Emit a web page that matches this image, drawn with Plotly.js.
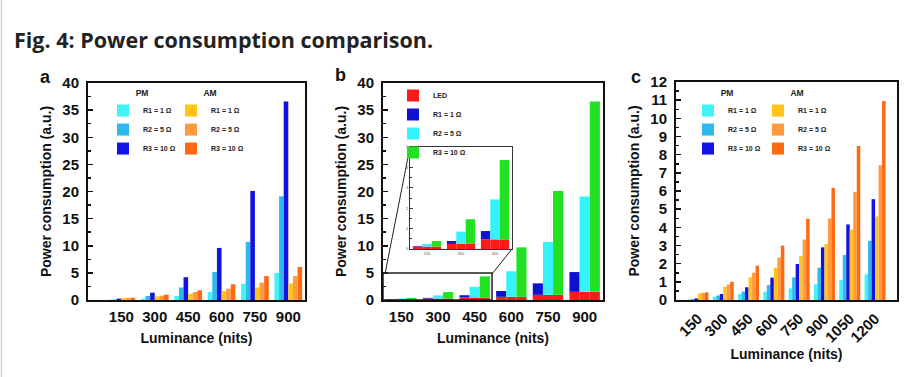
<!DOCTYPE html>
<html><head><meta charset="utf-8">
<script src="https://cdn.plot.ly/plotly-3.0.1.min.js"></script>
<style>html,body{margin:0;padding:0;background:#fff;} #chart{width:918px;height:377px;}</style>
</head><body><div id="chart"></div>
<script>
// ---------- data ----------
const luminanceAB = [150, 300, 450, 600, 750, 900];
const luminanceC = [150, 300, 450, 600, 750, 900, 1050, 1200];
const seriesNamesPMAM = ['R1 = 1 Ω', 'R2 = 5 Ω', 'R3 = 10 Ω'];
const seriesNamesB = ['LED', 'R1 = 1 Ω', 'R2 = 5 Ω', 'R3 = 10 Ω'];

// panel a
const a_pmR1 = [0.05, 0.25, 0.75, 1.5, 3.0, 5.0];
const a_pmR2 = [0.1, 0.75, 2.3, 5.15, 10.7, 19.1];
const a_pmR3 = [0.25, 1.35, 4.2, 9.6, 20.1, 36.6];
const a_amR1 = [0.35, 0.67, 1.17, 1.66, 2.3, 3.07];
const a_amR2 = [0.38, 0.8, 1.47, 2.1, 3.2, 4.4];
const a_amR3 = [0.4, 1.0, 1.78, 2.9, 4.4, 6.1];

// panel b (totals per resistor, LED share)
const b_led = [0.12, 0.25, 0.47, 0.58, 0.95, 1.5];
const b_totR1 = [0.15, 0.39, 0.88, 1.66, 3.07, 5.15];
const b_totR2 = [0.25, 0.85, 2.43, 5.3, 10.7, 19.1];
const b_totR3 = [0.39, 1.46, 4.36, 9.7, 20.1, 36.6];

// panel c
const c_pmR1 = [0.03, 0.18, 0.33, 0.46, 0.64, 0.86, 1.1, 1.41];
const c_pmR2 = [0.05, 0.24, 0.46, 0.82, 1.25, 1.78, 2.47, 3.26];
const c_pmR3 = [0.09, 0.33, 0.7, 1.23, 1.98, 2.9, 4.16, 5.55];
const c_amR1 = [0.37, 0.73, 1.25, 1.78, 2.42, 3.08, 3.88, 4.6];
const c_amR2 = [0.4, 0.86, 1.5, 2.33, 3.33, 4.49, 5.95, 7.42];
const c_amR3 = [0.42, 1.0, 1.89, 2.99, 4.47, 6.17, 8.48, 10.95];

// ---------- styling ----------
const W = 918, H = 377;
const px = v => v / W;
const py = v => 1 - v / H;
const FONT = 'Liberation Sans, Arial, sans-serif';
const pmColors = ['#3ff3f8', '#2db8ee', '#1212e2'];
const amColors = ['#ffc417', '#ff9a3e', '#ff6912'];
const bColors = ['#ff1a1a', '#1010d0', '#35f2ff', '#22e022'];

const traces = [];
function addBars(x, ys, names, colors, xa, ya, legend) {
  ys.forEach((y, i) => {
    traces.push({type: 'bar', x: x, y: y, name: names[i], xaxis: xa, yaxis: ya,
      legend: legend, marker: {color: colors[i], line: {width: 0}}, hoverinfo: 'x+y'});
  });
}
addBars(luminanceAB, [a_pmR1, a_pmR2, a_pmR3], seriesNamesPMAM, pmColors, 'x', 'y', 'legend');
addBars(luminanceAB, [a_amR1, a_amR2, a_amR3], seriesNamesPMAM, amColors, 'x', 'y', 'legend2');
addBars(luminanceC, [c_pmR1, c_pmR2, c_pmR3], seriesNamesPMAM, pmColors, 'x3', 'y3', 'legend4');
addBars(luminanceC, [c_amR1, c_amR2, c_amR3], seriesNamesPMAM, amColors, 'x3', 'y3', 'legend5');

// panel b stacked groups (main + inset)
const totals = [b_totR1, b_totR2, b_totR3];
[['x2', 'y2', true], ['x4', 'y4', false]].forEach(([xa, ya, main]) => {
  totals.forEach((tot, g) => {
    traces.push({type: 'bar', x: luminanceAB, y: b_led, name: seriesNamesB[0], xaxis: xa, yaxis: ya,
      offsetgroup: 'g' + g, legend: 'legend3', legendgroup: 'led', showlegend: main && g === 0,
      marker: {color: bColors[0], line: {width: 0}}});
  });
  totals.forEach((tot, g) => {
    traces.push({type: 'bar', x: luminanceAB, y: tot.map((t, k) => t - b_led[k]), base: b_led,
      name: seriesNamesB[g + 1], xaxis: xa, yaxis: ya, offsetgroup: 'g' + g, legend: 'legend3',
      showlegend: main, marker: {color: bColors[g + 1], line: {width: 0}}});
  });
});

const tickFont = {family: FONT, size: 15, color: '#111', weight: 'bold'};
const titleFont = {family: FONT, size: 14, color: '#111', weight: 'bold'};
function xAxis(dom, anchor, range, vals, extra, standoff) {
  return Object.assign({domain: dom, anchor: anchor, range: range, tickvals: vals, ticks: '',
    showline: true, mirror: true, linewidth: 2, linecolor: '#111', showgrid: false, zeroline: false,
    tickfont: tickFont, ticklabelstandoff: 2,
    title: {text: 'Luminance (nits)', font: titleFont, standoff: standoff}}, extra || {});
}
function yAxis(dom, anchor, range, dtick, minor) {
  return {domain: dom, anchor: anchor, range: range, dtick: dtick, ticks: 'inside', ticklen: 5,
    tickwidth: 1.5, tickcolor: '#111', minor: {ticks: 'inside', ticklen: 3, dtick: minor, tickcolor: '#111'},
    showline: true, mirror: true, linewidth: 2, linecolor: '#111', showgrid: false, zeroline: false,
    tickfont: tickFont, ticklabelstandoff: 4,
    title: {text: 'Power consumption (a.u.)', font: titleFont, standoff: 7}};
}
function legendAt(x, y, title) {
  const l = {x: px(x), y: py(y), xanchor: 'left', yanchor: 'top', bgcolor: 'rgba(0,0,0,0)',
    font: {family: FONT, size: 7, color: '#222', weight: 'bold'}, tracegroupgap: 0, itemwidth: 30};
  if (title) l.title = {text: title, side: 'top center', font: {family: FONT, size: 8.5, color: '#222', weight: 'bold'}};
  return l;
}
const panelLabel = (t, x, y) => ({text: t, x: px(x), y: py(y), xref: 'paper', yref: 'paper',
  xanchor: 'center', yanchor: 'middle', showarrow: false,
  font: {family: FONT, size: 18, color: '#111', weight: 'bold'}});

const layout = {
  width: W, height: H, margin: {l: 0, r: 0, t: 0, b: 0},
  paper_bgcolor: '#fff', plot_bgcolor: '#fff', showlegend: true,
  barmode: 'group', bargap: 0.17, bargroupgap: 0,
  title: {text: 'Fig. 4: Power consumption comparison.', x: px(14), xanchor: 'left', xref: 'paper',
    y: py(40), yanchor: 'middle', yref: 'paper',
    font: {family: 'Open Sans, sans-serif', size: 21.5, color: '#222', weight: 'bold'}},
  xaxis: xAxis([px(88), px(305)], 'y', [0, 975], luminanceAB, null, 9),
  yaxis: yAxis([py(300), py(83)], 'x', [0, 40], 5, 2.5),
  xaxis2: xAxis([px(383), px(603)], 'y2', [75, 975], luminanceAB, null, 9),
  yaxis2: yAxis([py(300), py(83)], 'x2', [0, 40], 5, 2.5),
  xaxis3: xAxis([px(676), px(897)], 'y3', [20, 1330], luminanceC, {tickangle: -45}, 3),
  yaxis3: yAxis([py(300), py(82)], 'x3', [0, 12], 1, 0.5),
  xaxis4: {domain: [px(410), px(512)], anchor: 'y4', range: [75, 525], tickvals: [150, 300, 450],
    ticks: '', showline: true, mirror: true, linewidth: 1, linecolor: '#333', showgrid: false,
    zeroline: false, tickfont: {family: FONT, size: 4, color: '#555'}},
  yaxis4: {domain: [py(249), py(147)], anchor: 'x4', range: [0, 5], dtick: 1, ticks: 'inside',
    ticklen: 3, tickcolor: '#333', minor: {ticks: 'inside', ticklen: 2, dtick: 0.5, tickcolor: '#333'},
    showline: true, mirror: true, linewidth: 1, linecolor: '#333', showgrid: false, zeroline: false,
    tickfont: {family: FONT, size: 4, color: '#555'}},
  legend: legendAt(103, 85, 'PM'),
  legend2: legendAt(171, 85, 'AM'),
  legend3: legendAt(393, 81, null),
  legend4: legendAt(688, 85, 'PM'),
  legend5: legendAt(758, 85, 'AM'),
  annotations: [panelLabel('a', 45, 77), panelLabel('b', 340, 75), panelLabel('c', 636, 77)],
  shapes: [
    {type: 'line', xref: 'paper', yref: 'paper', x0: px(1.5), x1: px(1.5), y0: 0, y1: 1,
      line: {color: '#d4d4d4', width: 1.5}},
    {type: 'rect', xref: 'x2', yref: 'y2', x0: 75, x1: 521, y0: 0, y1: 5,
      line: {color: '#222', width: 1.5}},
    {type: 'line', xref: 'paper', yref: 'paper', x0: px(410), y0: py(147), x1: px(385), y1: py(274),
      line: {color: '#222', width: 1}},
    {type: 'line', xref: 'paper', yref: 'paper', x0: px(512), y0: py(249), x1: px(492), y1: py(274),
      line: {color: '#222', width: 1}}
  ]
};

Plotly.newPlot('chart', traces, layout, {displayModeBar: false, staticPlot: true});
</script>
</body></html>
